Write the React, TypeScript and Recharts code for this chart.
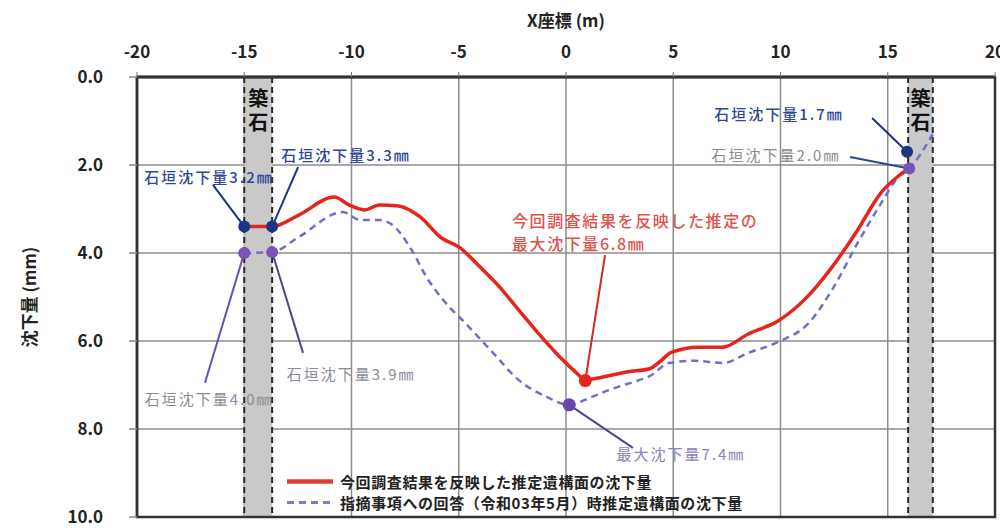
import React from 'react';
import {
  ComposedChart,
  Line,
  Scatter,
  XAxis,
  YAxis,
  CartesianGrid,
  ReferenceArea,
  ReferenceLine,
  ReferenceDot,
} from 'recharts';

const FONT = '"Noto Sans CJK JP", "Noto Sans", sans-serif';

// axes
const xTicks = [-20, -15, -10, -5, 0, 5, 10, 15, 20];
const yTicks = [0, 2, 4, 6, 8, 10];
const xAxisTitle = 'X座標 (m)';
const yAxisTitle = '沈下量 (mm)';

// 今回調査結果を反映した推定遺構面の沈下量
const currentX = [-15, -13.7, -12.5, -10.8, -10.1, -9.4, -8.7, -7.8, -6.8, -5.8, -5.0, -4.0, -3.1, -2.2, -1.3, -0.3, 0.5, 0.9, 1.5, 2.9, 3.9, 4.4, 4.9, 6.2, 7.3, 8.5, 9.9, 11.2, 12.4, 13.5, 14.7, 15.5, 16.0];
const currentY = [3.4, 3.4, 3.15, 2.73, 2.91, 3.02, 2.91, 2.93, 3.18, 3.66, 3.86, 4.32, 4.77, 5.30, 5.82, 6.36, 6.73, 6.89, 6.84, 6.70, 6.63, 6.46, 6.26, 6.14, 6.14, 5.84, 5.54, 5.02, 4.32, 3.55, 2.62, 2.25, 2.08];

// 指摘事項への回答（令和03年5月）時推定遺構面の沈下量
const previousX = [-15, -13.7, -12.5, -10.4, -9.6, -8.7, -8.1, -7.2, -6.5, -5.6, -4.7, -3.4, -2.2, -0.9, 0.15, 1.2, 2.2, 3.4, 3.9, 4.8, 6.0, 7.3, 8.5, 9.9, 11.3, 12.4, 13.6, 14.7, 15.5, 16.0, 17.1];
const previousY = [4.0, 3.98, 3.65, 3.07, 3.25, 3.25, 3.36, 3.93, 4.55, 5.14, 5.59, 6.27, 6.89, 7.27, 7.45, 7.27, 7.08, 6.89, 6.80, 6.50, 6.45, 6.50, 6.27, 6.02, 5.60, 4.84, 3.77, 2.86, 2.27, 2.08, 1.30];

// 石垣 points
const wallBlueX = [-15, -13.7, 15.9];
const wallBlueY = [3.4, 3.4, 1.7];
const wallPurpleX = [-15, -13.7, 16.0];
const wallPurpleY = [4.0, 3.98, 2.08];
const maxCurrentX = [0.9];
const maxCurrentY = [6.9];
const maxPreviousX = [0.15];
const maxPreviousY = [7.45];

// 築石 bands
const bandStart = [-15, 15.95];
const bandEnd = [-13.7, 17.1];
const bandLabel = '築石';

// legend
const legendLabels = [
  '今回調査結果を反映した推定遺構面の沈下量',
  '指摘事項への回答（令和03年5月）時推定遺構面の沈下量',
];

const toPts = (xs: number[], ys: number[]) => xs.map((x, i) => ({ x, y: ys[i] }));
const currentData = toPts(currentX, currentY);
const previousData = toPts(previousX, previousY);
const blueData = toPts(wallBlueX, wallBlueY);
const purpleData = toPts(wallPurpleX, wallPurpleY);
const maxCurData = toPts(maxCurrentX, maxCurrentY);
const maxPrevData = toPts(maxPreviousX, maxPreviousY);

const RED = '#e8231c';
const DASH = '#6e70c4';
const BLUE = '#1d3484';
const PURPLE = '#7a52b8';

type Ann = {
  text: string;
  color: string;
  weight: number;
  size: number;
  lx: number; ly: number; // label position
  ex: number; ey: number; // leader end
  px: number; py: number; // point
  lineColor: string;
};

const annotations: Ann[] = [
  { text: '石垣沈下量3.2㎜', color: '#2f4598', weight: 500, size: 15, lx: -16.64, ly: 2.27, ex: -16.46, ey: 2.45, px: wallBlueX[0], py: wallBlueY[0], lineColor: BLUE },
  { text: '石垣沈下量3.3㎜', color: '#2f4598', weight: 500, size: 15, lx: -10.26, ly: 1.77, ex: -12.49, ey: 2.05, px: wallBlueX[1], py: wallBlueY[1], lineColor: BLUE },
  { text: '石垣沈下量4.0㎜', color: '#8d8a9a', weight: 400, size: 15, lx: -16.64, ly: 7.3, ex: -16.83, ey: 6.95, px: wallPurpleX[0], py: wallPurpleY[0], lineColor: '#6a50b0' },
  { text: '石垣沈下量3.9㎜', color: '#8d8a9a', weight: 400, size: 15, lx: -10.02, ly: 6.73, ex: -12.26, ey: 6.27, px: wallPurpleX[1], py: wallPurpleY[1], lineColor: '#4d4592' },
  { text: '最大沈下量7.4㎜', color: '#8c80bc', weight: 400, size: 15, lx: 5.36, ly: 8.55, ex: 3.12, ey: 8.43, px: maxPreviousX[0], py: maxPreviousY[0], lineColor: '#4d4592' },
  { text: '石垣沈下量1.7㎜', color: '#2f4598', weight: 500, size: 15, lx: 9.93, ly: 0.82, ex: 14.27, ey: 0.93, px: wallBlueX[2], py: wallBlueY[2], lineColor: BLUE },
  { text: '石垣沈下量2.0㎜', color: '#8c8c8c', weight: 400, size: 15, lx: 9.79, ly: 1.77, ex: 13.24, ey: 1.82, px: wallPurpleX[2], py: wallPurpleY[2], lineColor: '#2f4598' },
];

const redLabel = {
  lines: ['今回調査結果を反映した推定の', '最大沈下量6.8㎜'],
  lx: -2.52,
  ly: [3.25, 3.77],
  ex: 1.82,
  ey: 4.05,
};

const makeLabel = (text: string, color: string, size: number, weight: number, anchor: string, spacing: number) =>
  (props: any) => {
    const vb = props.viewBox || {};
    const cx = (vb.x || 0) + (vb.width || 0) / 2;
    const cy = (vb.y || 0) + (vb.height || 0) / 2;
    return (
      <text
        x={cx}
        y={cy}
        fill={color}
        fontSize={size}
        fontFamily={FONT}
        fontWeight={weight}
        textAnchor={anchor as any}
        dominantBaseline="central"
        letterSpacing={spacing}
      >
        {text}
      </text>
    );
  };

const bandLabelRenderer = (props: any) => {
  const vb = props.viewBox || {};
  const cx = (vb.x || 0) + (vb.width || 0) / 2;
  const top = vb.y || 0;
  return (
    <text
      x={cx}
      y={top + 11}
      fontSize={20}
      fontWeight={700}
      fontFamily={FONT}
      fill="#111"
      textAnchor="start"
      letterSpacing={4}
      style={{ writingMode: 'vertical-rl' as any }}
    >
      {bandLabel}
    </text>
  );
};

const xLabelRenderer = (props: any) => {
  const vb = props.viewBox || {};
  return (
    <text
      x={(vb.x || 0) + (vb.width || 0) / 2}
      y={(vb.y || 0) + 11}
      fontSize={17}
      fontWeight={700}
      fontFamily={FONT}
      fill="#222"
      textAnchor="middle"
      dominantBaseline="central"
    >
      {xAxisTitle}
    </text>
  );
};

const yLabelRenderer = (props: any) => {
  const vb = props.viewBox || {};
  const x = (vb.x || 0) + 20;
  const y = (vb.y || 0) + (vb.height || 0) / 2;
  return (
    <text
      x={x}
      y={y}
      transform={`rotate(-90 ${x} ${y})`}
      fontSize={17}
      fontWeight={700}
      fontFamily={FONT}
      fill="#222"
      textAnchor="middle"
      dominantBaseline="central"
    >
      {yAxisTitle}
    </text>
  );
};

const dotShape = (color: string, r: number) => (p: any) =>
  <circle cx={p.cx} cy={p.cy} r={r} fill={color} />;

const tickStyle = { fill: '#222', fontSize: 17, fontWeight: 700, fontFamily: FONT };

export default function App() {
  return (
    <div style={{ position: 'relative', width: 1000, height: 520, background: '#fff' }}>
      <ComposedChart
        width={1000}
        height={520}
        margin={{ top: 0, right: 13, bottom: 11, left: 0 }}
      >
        <CartesianGrid stroke="#8c8c8c" strokeWidth={1.5} />
        <XAxis
          type="number"
          dataKey="x"
          domain={[-20, 20]}
          ticks={xTicks}
          interval={0}
          orientation="top"
          height={69}
          tickSize={5}
          tickMargin={14}
          axisLine={{ stroke: '#333', strokeWidth: 3 }}
          tickLine={{ stroke: '#777' }}
          tick={tickStyle}
          allowDataOverflow
          label={xLabelRenderer}
        />
        <YAxis
          type="number"
          dataKey="y"
          domain={[0, 10]}
          reversed
          ticks={yTicks}
          interval={0}
          width={129}
          tickSize={8}
          tickMargin={26}
          tickFormatter={(v: number) => v.toFixed(1)}
          axisLine={{ stroke: '#333', strokeWidth: 2.5 }}
          tickLine={{ stroke: '#888', strokeWidth: 1.5 }}
          tick={tickStyle}
          allowDataOverflow
          label={yLabelRenderer}
        />
        {bandStart.map((s, i) => (
          <ReferenceArea
            key={'band' + i}
            x1={s}
            x2={bandEnd[i]}
            y1={0}
            y2={10}
            fill="#c9c9c9"
            fillOpacity={1}
            stroke="none"
            label={bandLabelRenderer}
          />
        ))}
        {bandStart.map((s, i) => (
          <ReferenceLine key={'bs' + i} x={s} stroke="#2a2a2a" strokeWidth={2} strokeDasharray="6 4" />
        ))}
        {bandEnd.map((s, i) => (
          <ReferenceLine key={'be' + i} x={s} stroke="#2a2a2a" strokeWidth={2} strokeDasharray="6 4" />
        ))}
        <ReferenceArea x1={-20} x2={20} y1={0} y2={10} fill="none" stroke="#333" strokeWidth={2.5} />

        {annotations.map((a, i) => (
          <ReferenceLine
            key={'ld' + i}
            segment={[{ x: a.px, y: a.py }, { x: a.ex, y: a.ey }]}
            stroke={a.lineColor}
            strokeWidth={2}
            ifOverflow="visible"
          />
        ))}
        <ReferenceLine
          segment={[{ x: maxCurrentX[0], y: maxCurrentY[0] }, { x: redLabel.ex, y: redLabel.ey }]}
          stroke="#d3261e"
          strokeWidth={2}
          ifOverflow="visible"
        />

        <Line
          data={previousData}
          dataKey="y"
          type="monotone"
          stroke={DASH}
          strokeWidth={2.5}
          strokeDasharray="7 5"
          dot={false}
          activeDot={false}
          isAnimationActive={false}
        />
        <Line
          data={currentData}
          dataKey="y"
          type="monotone"
          stroke={RED}
          strokeWidth={3.5}
          dot={false}
          activeDot={false}
          isAnimationActive={false}
        />
        <Scatter data={purpleData} dataKey="y" shape={dotShape(PURPLE, 6)} isAnimationActive={false} />
        <Scatter data={blueData} dataKey="y" shape={dotShape(BLUE, 6)} isAnimationActive={false} />
        <Scatter data={maxPrevData} dataKey="y" shape={dotShape('#6a45ae', 6.5)} isAnimationActive={false} />
        <Scatter data={maxCurData} dataKey="y" shape={dotShape(RED, 6.5)} isAnimationActive={false} />

        {annotations.map((a, i) => (
          <ReferenceDot
            key={'lb' + i}
            x={a.lx}
            y={a.ly}
            r={0}
            fill="none"
            stroke="none"
            ifOverflow="visible"
            label={makeLabel(a.text, a.color, a.size, a.weight, 'middle', 2)}
          />
        ))}
        {redLabel.lines.map((t, i) => (
          <ReferenceDot
            key={'rl' + i}
            x={redLabel.lx}
            y={redLabel.ly[i]}
            r={0}
            fill="none"
            stroke="none"
            ifOverflow="visible"
            label={makeLabel(t, '#e0524c', 16, 500, 'start', 1.6)}
          />
        ))}
      </ComposedChart>
      <div
        style={{
          position: 'absolute',
          left: 279,
          top: 463,
          fontFamily: FONT,
          fontSize: 15,
          fontWeight: 700,
          color: '#222',
          letterSpacing: 0.6,
          lineHeight: '21px',
        }}
      >
        {legendLabels.map((t, i) => (
          <div key={i} style={{ display: 'flex', alignItems: 'center', height: 21, whiteSpace: 'nowrap' }}>
            <svg width={48} height={21} style={{ marginRight: 5 }}>
              <line
                x1={0}
                x2={46}
                y1={10.5}
                y2={10.5}
                stroke={i === 0 ? '#e03a35' : '#7a7bd0'}
                strokeWidth={i === 0 ? 4.5 : 3}
                strokeDasharray={i === 0 ? undefined : '7 5'}
              />
            </svg>
            <span>{t}</span>
          </div>
        ))}
      </div>
    </div>
  );
}
